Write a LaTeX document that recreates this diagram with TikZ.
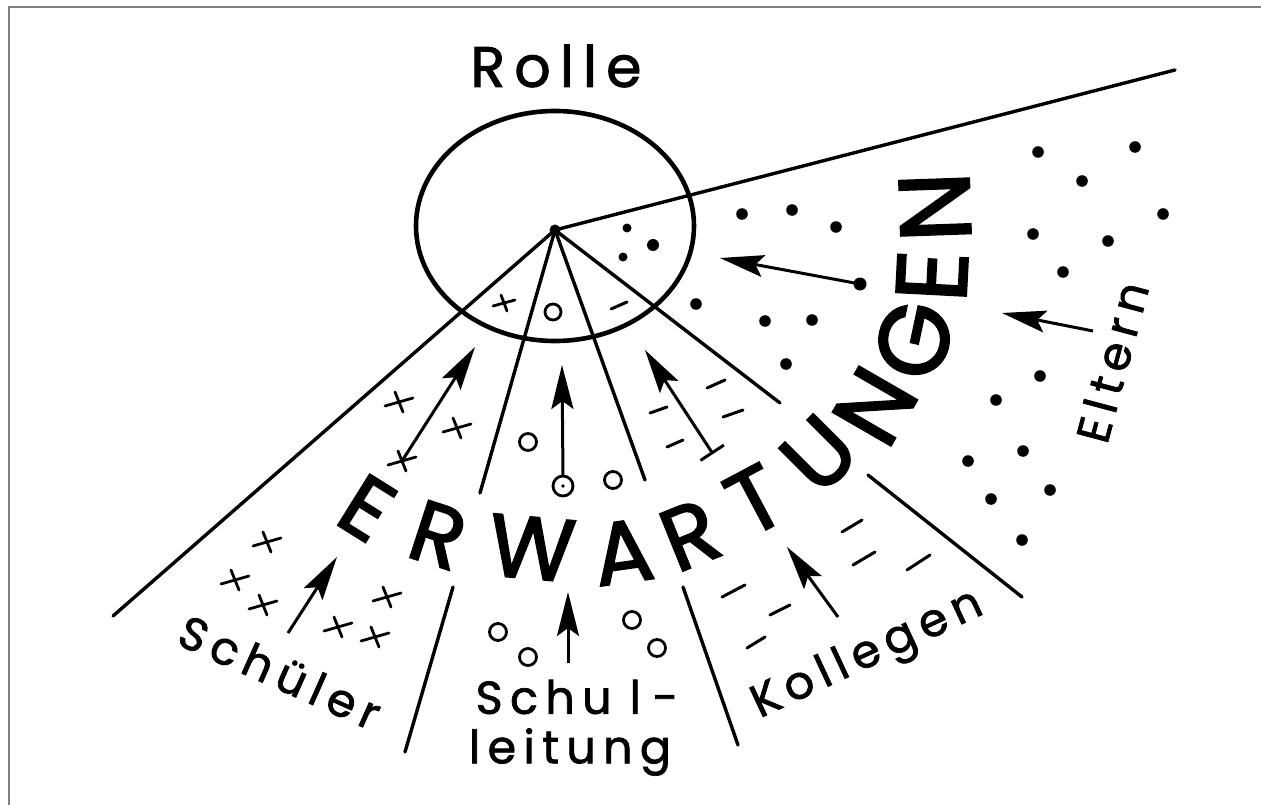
\documentclass[tikz,border=0pt]{standalone}
\usepackage{fontspec}
\setmainfont{Poppins}
\newfontfamily\labfont[LetterSpace=16,FakeBold=1.6]{Poppins}
\newfontfamily\rollefont[LetterSpace=16,FakeBold=1.6]{Poppins}
\newfontfamily\bigfont[FakeBold=2.2]{Poppins}
\usetikzlibrary{arrows.meta}
\tikzset{
  ray/.style={line width=3.4pt, line cap=round},
  ring/.style={line width=4.6pt},
  shaft/.style={line width=3pt, -{Stealth[length=44pt,width=22pt,inset=8pt]}},
  dashmk/.style={line width=3pt, line cap=round},
  ocirc/.style={line width=2.8pt},
  big/.style={inner sep=0pt},
  lab/.style={inner sep=0pt, font=\labfont\fontsize{46}{46}\selectfont},
  crossmk/.pic={\draw[line width=2.8pt, line cap=round] (-14,4)--(14,-4) (-4,-10)--(4,10);},
  smallcross/.pic={\draw[line width=2.8pt, line cap=round] (-11,3)--(11,-3) (-3,-8)--(3,8);}
}
\begin{document}
\begin{tikzpicture}[x=1pt,y=-1pt]
\useasboundingbox (0,0) rectangle (1261,805);
\draw[line width=2.2pt, color=black!50] (9,805) -- (9,7) -- (1261,7);

% key points
\coordinate (hub) at (555,230);
\coordinate (r1) at (1175,70);
\coordinate (r2) at (113,616);
\coordinate (r3i) at (480,493);
\coordinate (r4i) at (645,480);
\coordinate (r5i) at (780,403);
\coordinate (r3a) at (453,587);
\coordinate (r3b) at (405,752);
\coordinate (r4a) at (683,587);
\coordinate (r4b) at (738,745);
\coordinate (r5a) at (868,475);
\coordinate (r5b) at (1022,597);

% role circle
\draw[ring] (555,226) ellipse [x radius=139, y radius=115];
\node (rolle) at (556,66) {\rollefont\fontsize{57}{57}\selectfont Rolle};

% rays
\draw[ray] (hub) -- (r1);
\draw[ray] (hub) -- (r2);
\draw[ray] (hub) -- (r3i);
\draw[ray] (hub) -- (r4i);
\draw[ray] (hub) -- (r5i);
\draw[ray] (r3a) -- (r3b);
\draw[ray] (r4a) -- (r4b);
\draw[ray] (r5a) -- (r5b);
\fill (hub) circle[radius=5.5];

% marks inside the ring
\pic at (504,303) {smallcross};
\draw[ocirc] (553,312) circle[radius=8];
\draw[dashmk] (611,309) -- (627,302);
\fill (627,228) circle[radius=4.5];
\fill (653,245) circle[radius=6];
\fill (623,257) circle[radius=4.5];

% ERWARTUNGEN
\node[big, font=\bigfont\fontsize{86}{86}\selectfont, rotate=-32] (e1) at (367,508) {E};
\node[big, font=\bigfont\fontsize{86}{86}\selectfont, rotate=-18] (e2) at (438,535) {R};
\node[big, font=\bigfont\fontsize{88}{88}\selectfont, rotate=-5] (e3) at (532,548) {W};
\node[big, font=\bigfont\fontsize{88}{88}\selectfont, rotate=8] (e4) at (623,552) {A};
\node[big, font=\bigfont\fontsize{88}{88}\selectfont, rotate=22] (e5) at (690,535) {R};
\node[big, font=\bigfont\fontsize{90}{90}\selectfont, rotate=28] (e6) at (755,500) {T};
\node[big, font=\bigfont\fontsize{92}{92}\selectfont, rotate=45] (e7) at (819,454) {U};
\node[big, font=\bigfont\fontsize{96}{96}\selectfont, rotate=60] (e8) at (875,406) {N};
\node[big, font=\bigfont\fontsize{98}{98}\selectfont, rotate=78] (e9) at (914,340) {G};
\node[big, font=\bigfont\fontsize{100}{100}\selectfont, rotate=87] (e10) at (932,276) {E};
\node[big, font=\bigfont\fontsize{100}{100}\selectfont, rotate=92] (e11) at (935,207) {N};

% labels
\node[lab, rotate=-24] (schueler) at (280,672) {Schüler};
\node[lab] (schul) at (577,697) {Schu\kern18pt l\kern12pt-};
\node[lab] (leitung) at (570,752) {leitung};
\node[lab, rotate=25] (kollegen) at (868,656) {Kollegen};
\node[lab, rotate=75] (eltern) at (1112,362) {Eltern};

% Schueler wedge
\pic at (399,402) {crossmk};
\pic at (457,428) {crossmk};
\pic at (402,461) {crossmk};
\pic at (267,542) {crossmk};
\pic at (235,580) {crossmk};
\pic at (263,605) {crossmk};
\pic at (387,597) {crossmk};
\pic at (338,627) {crossmk};
\pic at (375,637) {crossmk};
\coordinate (a1s) at (402,461);
\coordinate (a1e) at (475,347);
\draw[shaft] (a1s) -- (a1e);
\coordinate (a2s) at (288,633);
\coordinate (a2e) at (337,557);
\draw[shaft] (a2s) -- (a2e);

% Schulleitung wedge
\draw[ocirc] (528,442) circle[radius=8.5];
\draw[ocirc] (613,480) circle[radius=8.5];
\draw[ocirc] (498,632) circle[radius=8.5];
\draw[ocirc] (528,657) circle[radius=8.5];
\draw[ocirc] (632,620) circle[radius=8.5];
\draw[ocirc] (657,648) circle[radius=8.5];
\draw[ocirc] (563,486) circle[radius=10];
\fill (563,486) circle[radius=1.8];
\coordinate (a3s) at (563,476);
\coordinate (a3e) at (562,365);
\draw[shaft] (a3s) -- (a3e);
\coordinate (a4s) at (568,663);
\coordinate (a4e) at (568,592);
\draw[shaft] (a4s) -- (a4e);

% Kollegen wedge
\draw[dashmk] (707,388) -- (725,380);
\draw[dashmk] (650,413) -- (667,407);
\draw[dashmk] (723,417) -- (743,410);
\draw[dashmk] (667,447) -- (683,440);
\draw[dashmk] (842,532) -- (862,520);
\draw[dashmk] (853,565) -- (875,552);
\draw[dashmk] (907,570) -- (930,555);
\draw[dashmk] (722,597) -- (745,585);
\draw[dashmk] (770,615) -- (790,605);
\draw[dashmk] (747,648) -- (765,637);
\coordinate (a5s) at (713,454);
\coordinate (a5e) at (645,350);
\draw[line width=3pt, {Bar[width=28pt,line width=3pt]}-{Stealth[length=44pt,width=22pt,inset=8pt]}] (a5s) -- (a5e);
\coordinate (a6s) at (838,617);
\coordinate (a6e) at (787,547);
\draw[shaft] (a6s) -- (a6e);

% Eltern wedge
\foreach \p in {(742,214),(792,210),(836,227),(696,304),(765,321),(812,320),(786,364),
  (1038,152),(1135,147),(1082,181),(1163,214),(1033,234),(1108,241),(1063,272),
  (1040,376),(996,400),(1023,451),(968,461),(1050,490),(991,499),(1022,540)}
  \fill \p circle[radius=5.8];
\coordinate (a7s) at (860,284);
\coordinate (a7e) at (720,258);
\fill (a7s) circle[radius=6.5];
\draw[shaft] (a7s) -- (a7e);
\coordinate (a8s) at (1093,331);
\coordinate (a8e) at (1002,313);
\draw[shaft] (a8s) -- (a8e);
\end{tikzpicture}
\end{document}
